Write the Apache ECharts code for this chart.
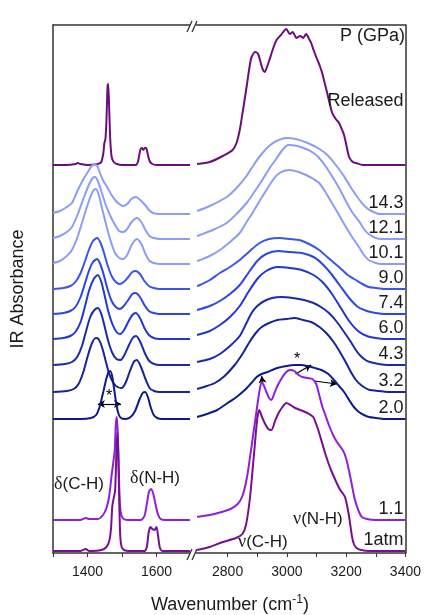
<!DOCTYPE html>
<html><head><meta charset="utf-8">
<script src="https://cdn.jsdelivr.net/npm/echarts@6/dist/echarts.min.js"></script>
<style>html,body{margin:0;padding:0;background:#fff}#c{width:424px;height:615px}</style>
</head><body><div id="c"></div>
<script>
// ---------- DATA (heights above each trace's own baseline, arbitrary units) ----------
const labels  = ['Released','14.3','12.1','10.1','9.0','7.4','6.0','4.3','3.2','2.0','1.1','1atm'];
const offsets = [388, 339, 314, 289, 264, 239, 214, 188, 161, 134, 33, 2];
const colors  = ['#6e0b7e','#8d9cf5','#8d9cf5','#8d9cf5','#3a55ec','#2a46e4','#2038d2','#1a2aaa','#16239a','#0f1a8c','#8e1fe0','#780f92'];

const releasedL = [[1300,0],[1340,0],[1365,1],[1372,2],[1380,1],[1400,0],[1430,1],[1440,3],[1446,12],[1449,22],[1452,26],[1455,45],[1458,78],[1460,81],[1463,55],[1466,25],[1470,8],[1476,3],[1485,1],[1500,0],[1540,0],[1546,3],[1550,10],[1554,16],[1558,17],[1562,15],[1566,17],[1570,17],[1574,12],[1580,4],[1588,1],[1600,0],[1697,0]];
const p143L = [[1300,1],[1320,3],[1340,7],[1355,11],[1372,24],[1390,36],[1401,42],[1412,48],[1422,50],[1430,47],[1436,41],[1446,33],[1457,27],[1468,20],[1480,14],[1492,10],[1503,8],[1515,10],[1527,15],[1540,17],[1553,14],[1567,9],[1578,4],[1590,1],[1610,0],[1697,0]];
const p121L = [[1300,1],[1320,3],[1340,7],[1355,12],[1372,25],[1390,42],[1405,55],[1415,61],[1422,62],[1430,58],[1440,48],[1452,35],[1465,24],[1480,14],[1492,8],[1503,7],[1515,10],[1528,17],[1543,21],[1556,17],[1568,9],[1580,3],[1592,1],[1610,0],[1697,0]];
const p101L = [[1300,1],[1320,3],[1340,8],[1355,14],[1372,28],[1390,48],[1405,64],[1416,73],[1424,75],[1432,70],[1442,56],[1455,38],[1468,22],[1480,11],[1492,6],[1503,5],[1515,9],[1528,19],[1543,25],[1556,20],[1568,10],[1580,3],[1592,1],[1610,0],[1697,0]];
const p90L  = [[1300,0],[1330,1],[1350,3],[1365,7],[1380,16],[1393,28],[1405,40],[1416,48],[1428,51],[1438,46],[1448,36],[1458,24],[1470,13],[1482,7],[1494,5],[1505,7],[1518,12],[1530,17],[1540,18],[1552,15],[1565,8],[1578,3],[1592,1],[1610,0],[1697,0]];
const p74L  = [[1300,0],[1330,1],[1350,3],[1365,7],[1380,17],[1393,31],[1405,44],[1416,52],[1428,55],[1438,49],[1448,38],[1458,25],[1470,13],[1482,7],[1494,5],[1505,8],[1518,14],[1530,20],[1540,21],[1552,17],[1565,9],[1578,3],[1592,1],[1610,0],[1697,0]];
const p60L  = [[1300,0],[1330,1],[1350,3],[1365,7],[1380,17],[1393,33],[1405,49],[1418,60],[1430,64],[1440,57],[1450,43],[1460,28],[1472,15],[1484,7],[1495,5],[1506,9],[1518,17],[1530,24],[1540,26],[1552,21],[1565,11],[1578,4],[1592,1],[1610,0],[1697,0]];
const p43L  = [[1300,0],[1335,1],[1355,3],[1370,8],[1384,19],[1396,34],[1408,48],[1420,55],[1430,57],[1440,51],[1450,38],[1460,24],[1472,12],[1484,6],[1496,5],[1507,10],[1519,19],[1531,27],[1541,29],[1553,23],[1566,12],[1579,4],[1593,1],[1610,0],[1697,0]];
const p32L  = [[1300,0],[1340,1],[1360,3],[1374,8],[1388,20],[1400,35],[1412,48],[1424,54],[1432,53],[1442,45],[1452,32],[1463,18],[1475,9],[1487,5],[1499,4],[1510,9],[1522,20],[1534,30],[1543,32],[1555,25],[1568,13],[1580,4],[1593,1],[1610,0],[1697,0]];
const p20L  = [[1300,0],[1380,0],[1410,1],[1425,4],[1435,12],[1445,26],[1453,38],[1460,46],[1466,48],[1472,42],[1478,28],[1484,14],[1490,5],[1497,1],[1510,0],[1525,2],[1538,8],[1550,19],[1560,26],[1567,27],[1575,22],[1583,12],[1592,4],[1602,1],[1615,0],[1697,0]];
const p11L  = [[1300,0],[1380,0],[1395,2],[1405,1],[1430,1],[1445,5],[1455,12],[1463,24],[1470,45],[1475,58],[1479,70],[1482,95],[1485,103],[1488,85],[1491,45],[1494,15],[1498,5],[1505,1],[1520,0],[1555,0],[1565,4],[1572,16],[1578,28],[1584,31],[1590,27],[1597,16],[1604,6],[1612,1],[1625,0],[1697,0]];
const atmL  = [[1300,0],[1380,0],[1395,2],[1405,0],[1440,1],[1455,4],[1463,10],[1468,22],[1472,45],[1476,53],[1480,60],[1483,90],[1486,118],[1489,100],[1492,50],[1495,15],[1499,4],[1506,1],[1520,0],[1565,0],[1572,4],[1577,18],[1582,24],[1588,22],[1594,21],[1600,24],[1605,14],[1610,3],[1618,0],[1697,0]];

const releasedR = [[2697,1],[2740,3],[2784,9],[2817,15],[2830,22],[2841,35],[2852,55],[2864,78],[2875,100],[2881,108],[2894,113],[2903,111],[2911,103],[2918,96],[2925,93],[2933,98],[2941,105],[2953,116],[2965,125],[2980,130],[2998,136],[3010,131],[3020,133],[3032,127],[3045,129],[3055,127],[3065,131],[3075,126],[3082,122],[3090,115],[3099,108],[3110,100],[3119,92],[3136,72],[3153,52],[3165,46],[3176,42],[3185,36],[3193,30],[3202,18],[3210,8],[3222,3],[3233,2],[3256,0],[3400,0]];
const p143R = [[2697,3],[2740,8],[2797,17],[2830,26],[2864,38],[2890,50],[2915,60],[2940,68],[2965,73],[2998,76],[3030,75],[3070,71],[3110,65],[3140,58],[3165,49],[3190,39],[3215,27],[3240,16],[3262,8],[3285,3],[3315,0],[3400,0]];
const p121R = [[2697,3],[2707,4],[2750,9],[2797,16],[2830,25],[2864,36],[2890,47],[2917,59],[2940,70],[2964,80],[2985,89],[3005,94],[3035,93],[3065,90],[3090,86],[3109,81],[3130,73],[3152,63],[3176,51],[3199,38],[3220,27],[3243,18],[3260,10],[3276,5],[3300,1],[3320,0],[3400,0]];
const p101R = [[2697,3],[2707,4],[2740,8],[2774,14],[2808,22],[2841,31],[2864,42],[2884,51],[2908,63],[2931,74],[2953,84],[2975,91],[3008,94],[3040,92],[3065,89],[3090,85],[3109,81],[3130,72],[3152,61],[3176,49],[3199,37],[3220,27],[3243,17],[3260,9],[3276,4],[3300,1],[3320,0],[3400,0]];
const p90R  = [[2697,3],[2707,4],[2740,9],[2774,16],[2808,22],[2841,29],[2875,38],[2908,46],[2940,50],[2975,51],[3010,50],[3042,49],[3075,45],[3109,39],[3140,31],[3176,22],[3205,14],[3233,9],[3255,5],[3276,2],[3300,1],[3330,0],[3400,0]];
const p74R  = [[2697,4],[2740,8],[2774,13],[2808,20],[2841,29],[2870,41],[2900,53],[2930,60],[2970,63],[3010,62],[3050,61],[3090,57],[3120,50],[3150,40],[3180,28],[3210,16],[3240,7],[3270,3],[3300,1],[3330,0],[3400,0]];
const p60R  = [[2697,4],[2740,8],[2774,14],[2808,22],[2841,33],[2870,47],[2900,60],[2930,68],[2970,72],[3010,71],[3050,69],[3090,64],[3120,57],[3150,46],[3180,32],[3210,18],[3240,8],[3270,3],[3300,1],[3330,0],[3400,0]];
const p43R  = [[2697,3],[2740,6],[2774,11],[2808,19],[2841,29],[2862,41],[2881,52],[2900,59],[2924,64],[2950,67],[2981,68],[3020,67],[3058,65],[3090,62],[3115,58],[3142,52],[3169,43],[3193,33],[3216,23],[3235,14],[3249,9],[3265,5],[3280,3],[3310,1],[3340,0],[3400,0]];
const p32R  = [[2697,3],[2730,6],[2757,9],[2790,16],[2824,27],[2850,38],[2874,50],[2895,59],[2915,65],[2940,69],[2968,72],[3000,73],[3025,74],[3055,72],[3082,70],[3110,65],[3136,58],[3160,49],[3183,38],[3200,29],[3216,20],[3233,12],[3250,7],[3265,4],[3280,2],[3310,1],[3340,0],[3400,0]];
const p20R  = [[2697,2],[2730,5],[2765,9],[2800,16],[2830,22],[2858,29],[2880,36],[2898,42],[2915,45],[2935,47],[2968,51],[3000,53],[3025,54],[3050,54],[3082,52],[3116,49],[3140,45],[3159,39],[3176,33],[3193,27],[3210,19],[3226,12],[3243,7],[3260,4],[3277,2],[3300,1],[3330,0],[3400,0]];
const p11R  = [[2697,3],[2740,5],[2780,8],[2810,11],[2834,16],[2850,24],[2865,42],[2881,74],[2898,110],[2907,128],[2915,138],[2923,134],[2931,128],[2940,122],[2948,120],[2958,127],[2968,134],[2983,142],[2998,148],[3012,150],[3025,149],[3040,145],[3052,143],[3070,142],[3086,141],[3099,136],[3110,124],[3119,114],[3131,104],[3143,94],[3156,85],[3169,78],[3186,71],[3195,66],[3203,58],[3212,46],[3220,34],[3228,22],[3236,14],[3245,7],[3253,3],[3270,1],[3300,0],[3400,0]];
const atmR  = [[2697,1],[2740,4],[2784,9],[2828,13],[2850,17],[2862,26],[2875,52],[2890,100],[2900,132],[2907,141],[2915,135],[2925,128],[2937,122],[2948,121],[2960,130],[2972,138],[2985,144],[2998,148],[3012,146],[3028,143],[3045,141],[3062,139],[3075,137],[3089,134],[3100,126],[3106,121],[3118,109],[3129,98],[3140,88],[3149,81],[3165,70],[3180,61],[3190,57],[3196,54],[3202,47],[3208,38],[3214,26],[3220,14],[3226,7],[3235,3],[3250,1],[3280,0],[3400,0]];

const leftData  = [releasedL,p143L,p121L,p101L,p90L,p74L,p60L,p43L,p32L,p20L,p11L,atmL];
const rightData = [releasedR,p143R,p121R,p101R,p90R,p74R,p60R,p43R,p32R,p20R,p11R,atmR];

const leftTicks = [1300,1400,1500,1600];
const leftTickLabels = [1400,1600];
const rightTicks = [2800,2900,3000,3100,3200,3300,3400];
const rightTickLabels = [2800,3000,3200,3400];

// annotation arrows (data coordinates)
const arrowsLeft  = [[[1430,149],[1497,149]]];
const arrowsRight = [[[2918,170],[2915,177]],[[3029,179],[3082,188]],[[3092,172],[3169,169]]];

// ---------- CHART ----------
const FONT = '"Liberation Sans", Arial, sans-serif';
const TXT = '#1a1a1a';
const AX = '#333';
const chart = echarts.init(document.getElementById('c'), null, {renderer:'canvas'});

const series = [];
labels.forEach((lab, i) => {
  const base = {
    type:'line', name: lab, showSymbol:false, smooth:0.25, silent:true,
    lineStyle:{width:2, color:colors[i]}, itemStyle:{color:colors[i]}, z: 2 + i
  };
  series.push(Object.assign({}, base, {xAxisIndex:0, yAxisIndex:0,
    data: leftData[i].map(p => [p[0], p[1] + offsets[i]])}));
  series.push(Object.assign({}, base, {xAxisIndex:2, yAxisIndex:1,
    data: rightData[i].map(p => [p[0], p[1] + offsets[i]])}));
});
// arrows attached to the 2.0 traces
const idx20 = labels.indexOf('2.0');
series[idx20*2].markLine = {silent:true, symbol:['arrow','arrow'], symbolSize:[6,7], animation:false,
  lineStyle:{color:'#000', width:1.2, type:'solid'}, label:{show:false},
  data: arrowsLeft.map(a => [{coord:a[0]},{coord:a[1]}])};
series[idx20*2+1].markLine = {silent:true, symbol:['none','arrow'], symbolSize:[6,7], animation:false,
  lineStyle:{color:'#000', width:1.2, type:'solid'}, label:{show:false},
  data: arrowsRight.map(a => [{coord:a[0]},{coord:a[1]}])};

const lineStyle = {color:AX, width:1.5};
const plain = v => String(v);
const option = {
  animation:false,
  backgroundColor:'#fff',
  grid:[
    {left:53, top:25, width:138, height:528},
    {left:195, top:25, width:212, height:528}
  ],
  xAxis:[
    {gridIndex:0, type:'value', min:1300, max:1700, position:'bottom',
     axisLine:{show:true, lineStyle}, splitLine:{show:false},
     axisTick:{show:true, length:4, lineStyle:{color:AX, width:1}, customValues:leftTicks},
     axisLabel:{customValues:leftTickLabels, formatter:plain, fontSize:14, color:TXT, fontFamily:FONT, margin:12}},
    {gridIndex:0, type:'value', min:1300, max:1700, position:'top',
     axisLine:{show:true, lineStyle}, axisTick:{show:false}, axisLabel:{show:false}, splitLine:{show:false}},
    {gridIndex:1, type:'value', min:2690, max:3400, position:'bottom',
     axisLine:{show:true, lineStyle}, splitLine:{show:false},
     axisTick:{show:true, length:4, lineStyle:{color:AX, width:1}, customValues:rightTicks},
     axisLabel:{customValues:rightTickLabels, formatter:plain, fontSize:14, color:TXT, fontFamily:FONT, margin:12}},
    {gridIndex:1, type:'value', min:2690, max:3400, position:'top',
     axisLine:{show:true, lineStyle}, axisTick:{show:false}, axisLabel:{show:false}, splitLine:{show:false}}
  ],
  yAxis:[
    {gridIndex:0, type:'value', min:0, max:528, position:'left',
     axisLine:{show:true, lineStyle}, axisTick:{show:false}, axisLabel:{show:false}, splitLine:{show:false},
     name:'IR Absorbance', nameLocation:'middle', nameGap:26,
     nameTextStyle:{fontSize:18, color:TXT, fontFamily:FONT}},
    {gridIndex:1, type:'value', min:0, max:528, position:'right',
     axisLine:{show:true, lineStyle}, axisTick:{show:false}, axisLabel:{show:false}, splitLine:{show:false}}
  ],
  series
};
chart.setOption(option);

// ---------- TEXT / DECORATION ----------
const g = [];
labels.forEach((lab, i) => {
  const p = chart.convertToPixel({xAxisIndex:2, yAxisIndex:1}, [3400, offsets[i]]);
  const dy = lab === 'Released' ? 55 : 2;
  g.push({type:'text', z:100, style:{text:lab, x:p[0]-2, y:p[1]-dy, align:'right', verticalAlign:'bottom',
    fontSize:18, fontFamily:FONT, fill:TXT}});
});
g.push({type:'text', z:100, style:{text:'P (GPa)', x:405, y:36, align:'right', verticalAlign:'middle', fontSize:18, fontFamily:FONT, fill:TXT}});
const greek = {g:{fontFamily:'"Liberation Serif", "DejaVu Serif", serif', fontSize:18, fill:TXT}, t:{fontFamily:FONT, fontSize:17, fill:TXT}};
function ann(txt, x, y){ return {type:'text', z:100, style:{text:txt, x, y, align:'left', verticalAlign:'middle', rich:greek}}; }
g.push(ann('{g|δ}{t|(C-H)}', 54, 484));
g.push(ann('{g|δ}{t|(N-H)}', 130, 478));
g.push(ann('{g|ν}{t|(C-H)}', 238, 542));
g.push(ann('{g|ν}{t|(N-H)}', 293, 519));
g.push({type:'text', z:100, style:{text:'*', x:109, y:397, align:'center', verticalAlign:'middle', fontSize:16, fontFamily:FONT, fill:'#000'}});
g.push({type:'text', z:100, style:{text:'*', x:297, y:360, align:'center', verticalAlign:'middle', fontSize:16, fontFamily:FONT, fill:'#000'}});
// x axis title
g.push({type:'text', z:100, style:{text:'{a|Wavenumber (cm}{s|-1}{a|)}', x:230, y:605, align:'center', verticalAlign:'middle',
  rich:{a:{fontSize:18, fontFamily:FONT, fill:TXT, lineHeight:22}, s:{fontSize:12, fontFamily:FONT, fill:TXT, lineHeight:12, verticalAlign:'top'}}}});
// axis break marks
[[25],[553]].forEach(([yy]) => {
  g.push({type:'rect', z:99, shape:{x:190, y:yy-2, width:6, height:4}, style:{fill:'#fff'}});
  g.push({type:'line', z:100, shape:{x1:187, y1:yy+7, x2:192, y2:yy-4}, style:{stroke:AX, lineWidth:1.3}});
  g.push({type:'line', z:100, shape:{x1:192, y1:yy+7, x2:197, y2:yy-4}, style:{stroke:AX, lineWidth:1.3}});
});
chart.setOption({graphic:g});
</script></body></html>
